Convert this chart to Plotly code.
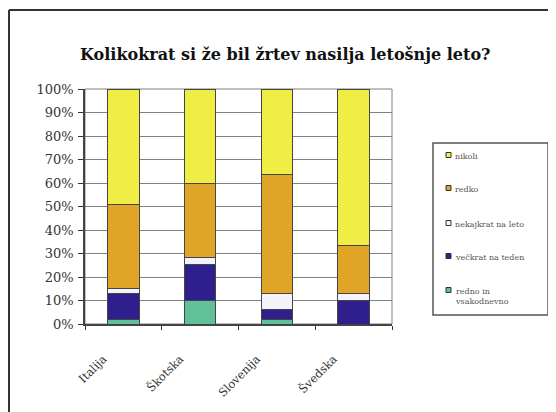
import plotly.graph_objects as go

categories = ["Italija", "Škotska", "Slovenija", "Švedska"]
series_names = ["redno in vsakodnevno", "večkrat na teden", "nekajkrat na leto", "redko", "nikoli"]
legend_labels = ["redno in<br>vsakodnevno", "večkrat na teden", "nekajkrat na leto", "redko", "nikoli"]
v_daily = [2, 10, 2, 0]
v_weekly = [11, 15.5, 4, 10]
v_yearly = [2, 3, 7, 3]
v_rarely = [36, 31.5, 50.5, 20.5]
v_never = [49, 40, 36.5, 66.5]
colors = ["#5FC09A", "#2E1F8C", "#F4F2FA", "#E0A426", "#F0EE44"]
tick_vals = [0, 10, 20, 30, 40, 50, 60, 70, 80, 90, 100]
tick_text = [f"{v}%" for v in tick_vals]
title_text = "Kolikokrat si že bil žrtev nasilja letošnje leto?"

O = 8  # page body margin offset
W, H = 556 - O, 412 - O
L, R, T, B = 85 - O, 392 - O, 89 - O, 324 - O  # plot area in figure pixels

def px(x):
    return (x - O - L) / (R - L)

def py(y):
    return (B - (y - O)) / (B - T)

values = [v_daily, v_weekly, v_yearly, v_rarely, v_never]
fig = go.Figure()
for name, vals, col in zip(series_names, values, colors):
    fig.add_trace(go.Bar(
        x=categories, y=vals, name=name,
        marker=dict(color=col, line=dict(color="#454545", width=1)),
        showlegend=False,
    ))

shapes = []
shapes.append(dict(type="rect", xref="paper", yref="paper", x0=0, x1=1, y0=0, y1=1,
                   line=dict(color="#808080", width=1), layer="below"))
shapes.append(dict(type="line", xref="paper", yref="paper", x0=px(9), x1=px(9), y0=py(430), y1=py(10),
                   line=dict(color="#333333", width=2)))
shapes.append(dict(type="line", xref="paper", yref="paper", x0=px(9), x1=px(580), y0=py(10), y1=py(10),
                   line=dict(color="#333333", width=2)))
shapes.append(dict(type="rect", xref="paper", yref="paper", x0=px(433), x1=px(548), y0=py(315), y1=py(143),
                   line=dict(color="#555555", width=1.5), fillcolor="white"))

annotations = [dict(text=f"<b>{title_text}</b>", xref="paper", yref="paper", x=px(285), y=py(43),
                    showarrow=False, font=dict(family="DejaVu Serif", size=16, color="#111111"))]

leg_y = [155, 188, 223, 256, 290]
order = [4, 3, 2, 1, 0]
for yy, idx in zip(leg_y, order):
    shapes.append(dict(type="rect", xref="paper", yref="paper", x0=px(446), x1=px(451),
                       y0=py(yy + 2.5), y1=py(yy - 2.5),
                       fillcolor=colors[idx], line=dict(color="#333333", width=1)))
    annotations.append(dict(text=legend_labels[idx], xref="paper", yref="paper", x=px(453), y=py(yy - 5),
                            xanchor="left", yanchor="top", align="left", showarrow=False,
                            font=dict(family="DejaVu Serif", size=8, color="#555555")))

fig.update_layout(
    width=W, height=H,
    margin=dict(l=L, r=W - R, t=T, b=H - B, pad=0, autoexpand=False),
    barmode="stack", bargap=0.59,
    paper_bgcolor="white", plot_bgcolor="white",
    shapes=shapes, annotations=annotations,
    xaxis=dict(tickson="boundaries", ticks="outside", ticklen=4, tickcolor="#333",
               showline=True, linecolor="#444", linewidth=1.5, showgrid=False,
               tickangle=-45, ticklabelshift=-20, ticklabelstandoff=22,
               tickfont=dict(family="DejaVu Serif", size=11.5, color="#333")),
    yaxis=dict(range=[0, 100], tickvals=tick_vals, ticktext=tick_text, ticks="outside", ticklen=5,
               tickcolor="#333", showline=True, linecolor="#444", linewidth=1.5,
               showgrid=True, gridcolor="#808080", gridwidth=1, zeroline=False,
               ticklabelstandoff=2,
               tickfont=dict(family="DejaVu Serif", size=13, color="#333")),
)

fig.write_html("out.html")
